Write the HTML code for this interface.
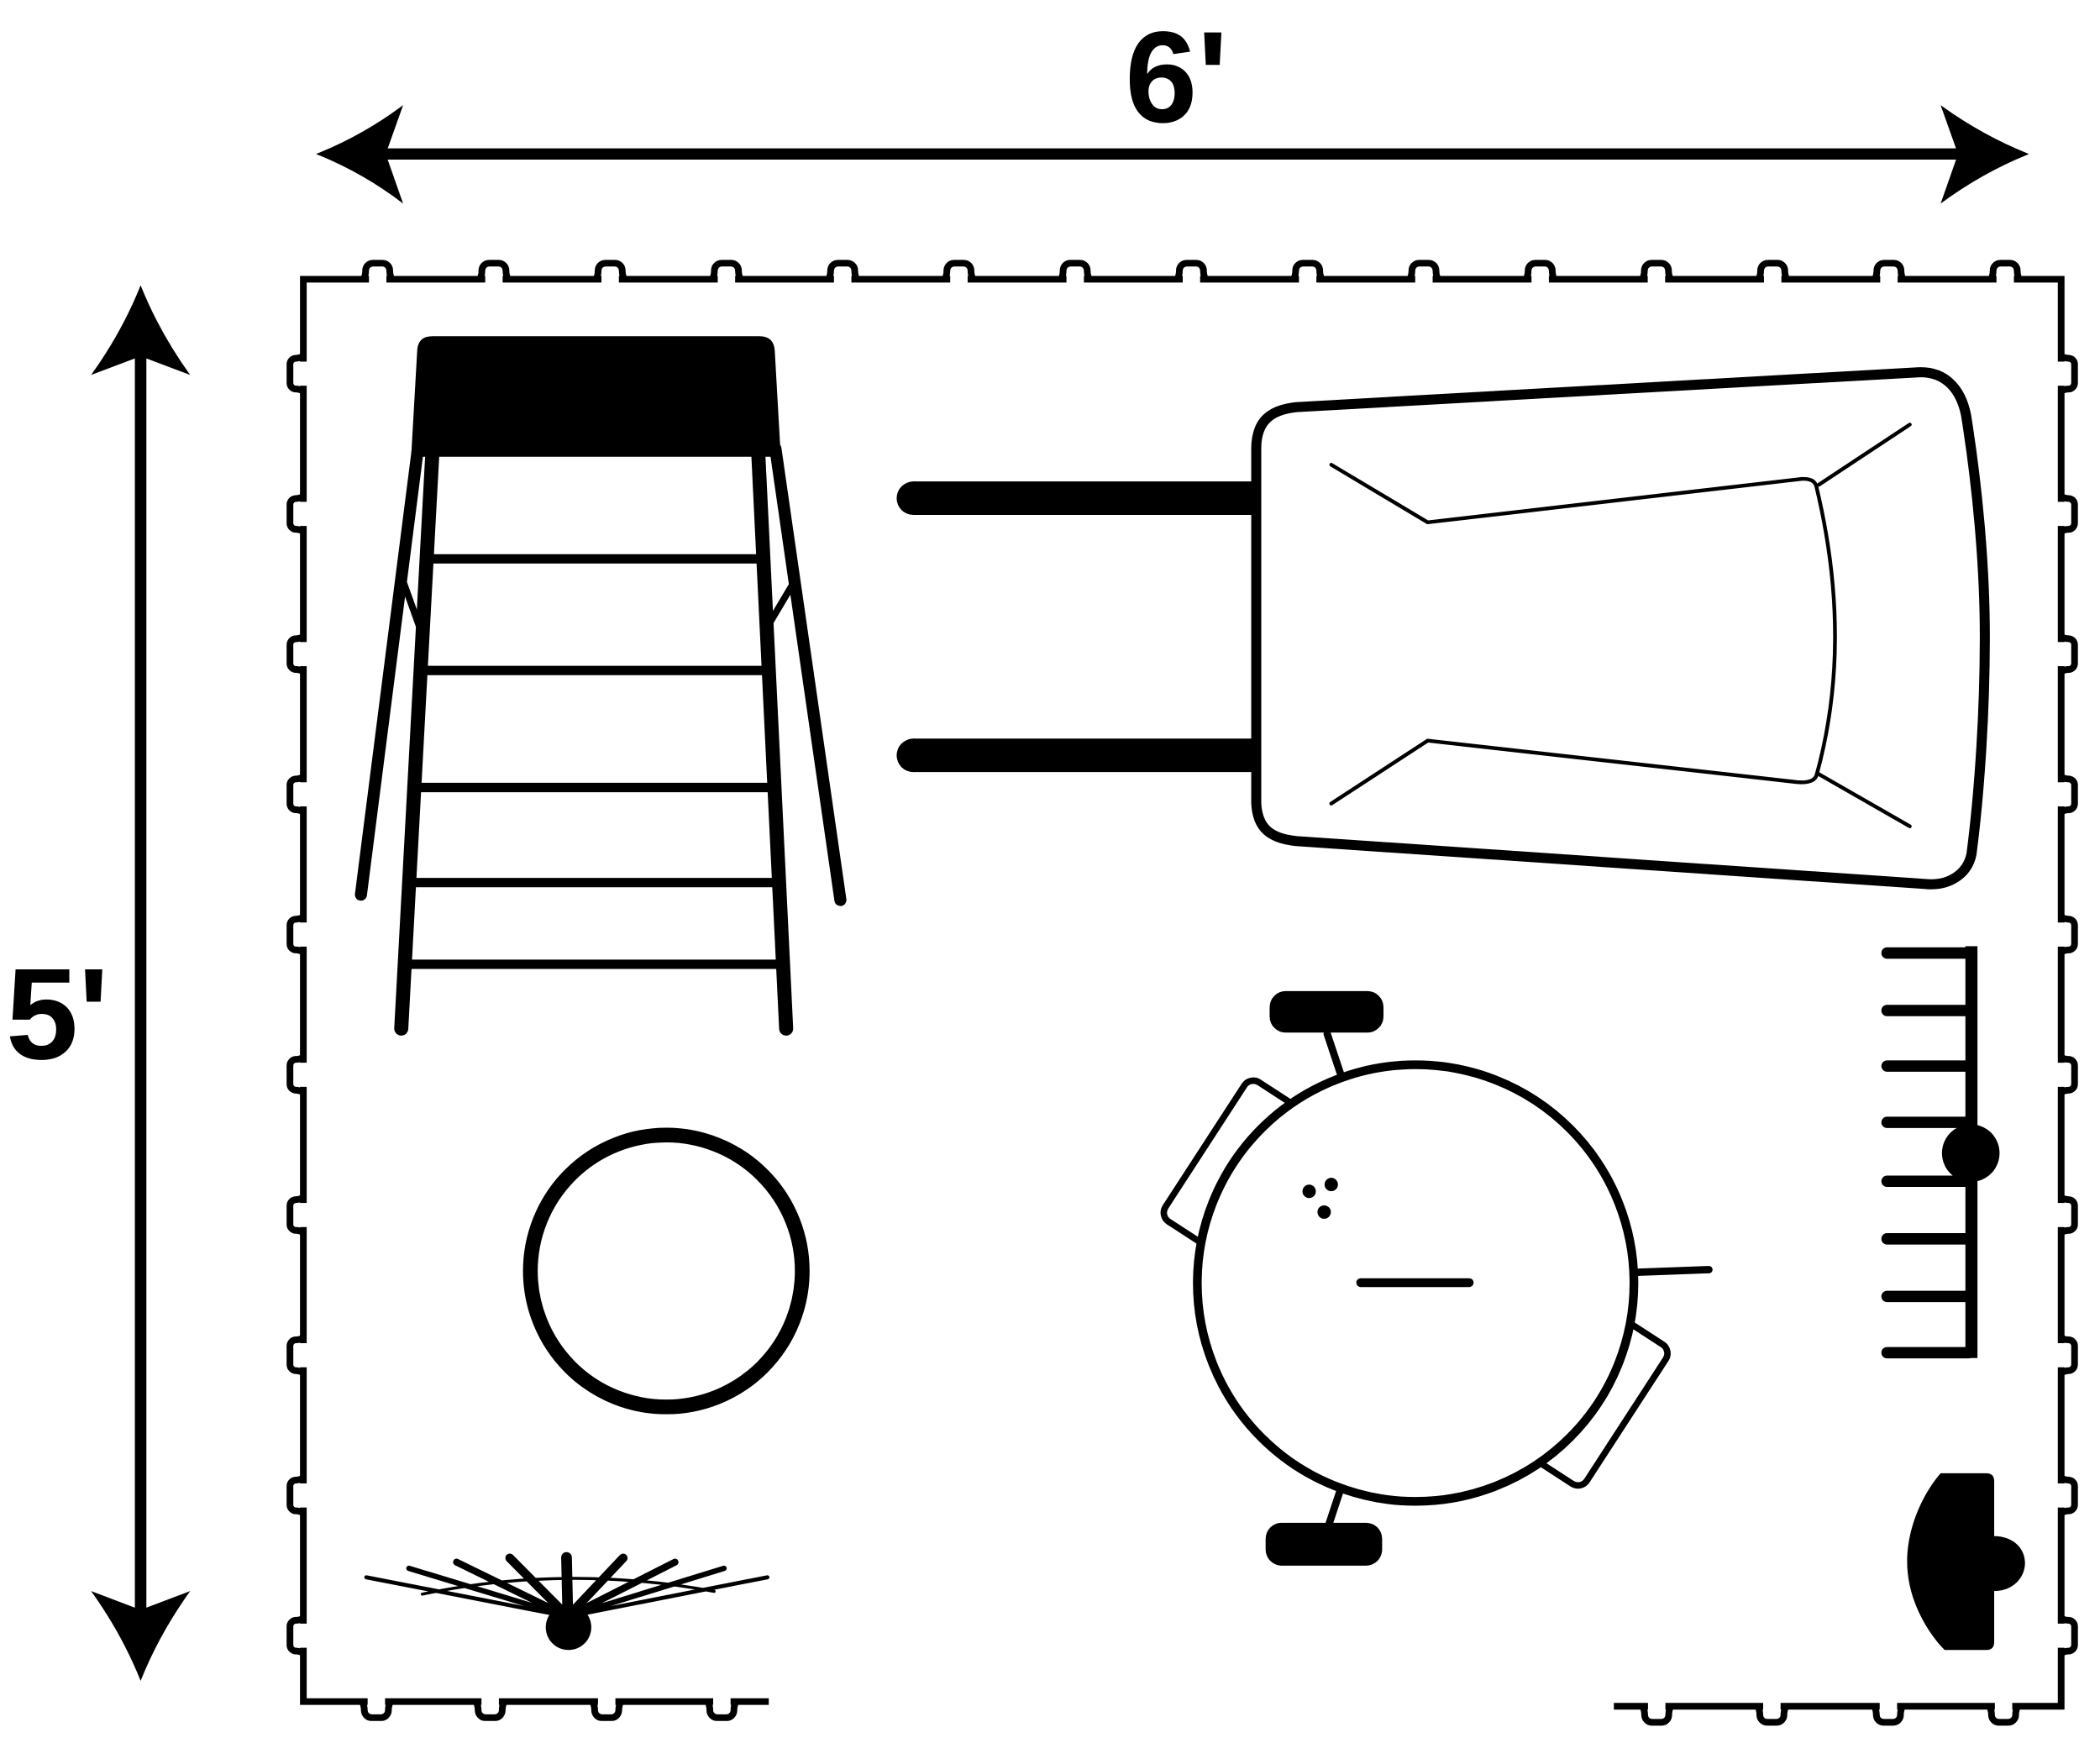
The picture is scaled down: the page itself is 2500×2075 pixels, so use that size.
<!DOCTYPE html>
<html>
<head>
<meta charset="utf-8">
<style>
  html, body { margin: 0; padding: 0; background: #ffffff; }
  svg { display: block; }
</style>
</head>
<body>
<svg xmlns="http://www.w3.org/2000/svg" xmlns:xlink="http://www.w3.org/1999/xlink" width="2500" height="2075" viewBox="0 0 1568 1301.43" preserveAspectRatio="none">
  <defs>
    <g id="tt">
      <rect x="-6.5" y="-3" width="13" height="6" fill="#fff"/>
      <path d="M-10.5,0 C-9.5,-2 -9,-4.5 -9,-6.5 A5.5,5.5 0 0 1 -3.5,-12 L3.5,-12 A5.5,5.5 0 0 1 9,-6.5 C9,-4.5 9.5,-2 10.5,0" fill="none" stroke="#000" stroke-width="5"/>
    </g>
    <g id="ts">
      <rect x="-9" y="-3" width="18" height="6" fill="#fff"/>
      <path d="M-13,0 C-12,-2 -11.5,-4 -11.5,-5.5 A4.5,4.5 0 0 1 -7,-10 L7,-10 A4.5,4.5 0 0 1 11.5,-5.5 C11.5,-4 12,-2 13,0" fill="none" stroke="#000" stroke-width="5"/>
    </g>
  </defs>

  <rect x="0" y="0" width="1568" height="1301.43" fill="#fff"/>

  <!-- Dimension labels -->
  <text x="840" y="91" font-family="'Liberation Sans', Arial, sans-serif" font-weight="bold" font-size="97" fill="#000">6'</text>
  <text x="4.4" y="790.5" font-family="'Liberation Sans', Arial, sans-serif" font-weight="bold" font-size="97" fill="#000">5'</text>

  <!-- Horizontal dimension arrow -->
  <line x1="287" y1="115" x2="1463" y2="115" stroke="#000" stroke-width="8.4"/>
  <path d="M236,115 Q271,101 301,78.5 L288,115 L301,152 Q271,129 236,115 Z" fill="#000"/>
  <path d="M1515,115 Q1480,101 1449,78.5 L1462,115 L1449,152 Q1480,129 1515,115 Z" fill="#000"/>

  <!-- Vertical dimension arrow -->
  <line x1="105" y1="265" x2="105" y2="1203" stroke="#000" stroke-width="8.6"/>
  <path d="M105,213 Q119,248 142,280 L105,266 L68,280 Q91,248 105,213 Z" fill="#000"/>
  <path d="M105,1255 Q119,1220 142,1188 L105,1202 L68,1188 Q91,1220 105,1255 Z" fill="#000"/>

  <!-- Border -->
  <path d="M574,1270.5 H226.5 V208.5 H1539 V1274 H1205" fill="none" stroke="#000" stroke-width="5" stroke-linejoin="miter"/>

  <!-- Top tabs -->
  <use xlink:href="#tt" transform="translate(282,208.5)"/>
  <use xlink:href="#tt" transform="translate(368.8,208.5)"/>
  <use xlink:href="#tt" transform="translate(455.6,208.5)"/>
  <use xlink:href="#tt" transform="translate(542.4,208.5)"/>
  <use xlink:href="#tt" transform="translate(629.2,208.5)"/>
  <use xlink:href="#tt" transform="translate(716,208.5)"/>
  <use xlink:href="#tt" transform="translate(802.8,208.5)"/>
  <use xlink:href="#tt" transform="translate(889.6,208.5)"/>
  <use xlink:href="#tt" transform="translate(976.4,208.5)"/>
  <use xlink:href="#tt" transform="translate(1063.2,208.5)"/>
  <use xlink:href="#tt" transform="translate(1150,208.5)"/>
  <use xlink:href="#tt" transform="translate(1236.8,208.5)"/>
  <use xlink:href="#tt" transform="translate(1323.6,208.5)"/>
  <use xlink:href="#tt" transform="translate(1410.4,208.5)"/>
  <use xlink:href="#tt" transform="translate(1497.2,208.5)"/>

  <!-- Left tabs -->
  <use xlink:href="#ts" transform="translate(226.5,279) rotate(-90)"/>
  <use xlink:href="#ts" transform="translate(226.5,383.7) rotate(-90)"/>
  <use xlink:href="#ts" transform="translate(226.5,488.4) rotate(-90)"/>
  <use xlink:href="#ts" transform="translate(226.5,593.1) rotate(-90)"/>
  <use xlink:href="#ts" transform="translate(226.5,697.8) rotate(-90)"/>
  <use xlink:href="#ts" transform="translate(226.5,802.5) rotate(-90)"/>
  <use xlink:href="#ts" transform="translate(226.5,907.2) rotate(-90)"/>
  <use xlink:href="#ts" transform="translate(226.5,1011.9) rotate(-90)"/>
  <use xlink:href="#ts" transform="translate(226.5,1116.6) rotate(-90)"/>
  <use xlink:href="#ts" transform="translate(226.5,1221.3) rotate(-90)"/>

  <!-- Right tabs -->
  <use xlink:href="#ts" transform="translate(1539,279) rotate(90)"/>
  <use xlink:href="#ts" transform="translate(1539,383.7) rotate(90)"/>
  <use xlink:href="#ts" transform="translate(1539,488.4) rotate(90)"/>
  <use xlink:href="#ts" transform="translate(1539,593.1) rotate(90)"/>
  <use xlink:href="#ts" transform="translate(1539,697.8) rotate(90)"/>
  <use xlink:href="#ts" transform="translate(1539,802.5) rotate(90)"/>
  <use xlink:href="#ts" transform="translate(1539,907.2) rotate(90)"/>
  <use xlink:href="#ts" transform="translate(1539,1011.9) rotate(90)"/>
  <use xlink:href="#ts" transform="translate(1539,1116.6) rotate(90)"/>
  <use xlink:href="#ts" transform="translate(1539,1221.3) rotate(90)"/>

  <!-- Bottom tabs -->
  <use xlink:href="#tt" transform="translate(281,1270.5) rotate(180)"/>
  <use xlink:href="#tt" transform="translate(366,1270.5) rotate(180)"/>
  <use xlink:href="#tt" transform="translate(453,1270.5) rotate(180)"/>
  <use xlink:href="#tt" transform="translate(539,1270.5) rotate(180)"/>
  <use xlink:href="#tt" transform="translate(1237,1274) rotate(180)"/>
  <use xlink:href="#tt" transform="translate(1323,1274) rotate(180)"/>
  <use xlink:href="#tt" transform="translate(1410,1274) rotate(180)"/>
  <use xlink:href="#tt" transform="translate(1496,1274) rotate(180)"/>

  <!-- Ladder -->
  <g stroke="#000" stroke-linecap="round" fill="none">
    <line x1="312" y1="335" x2="269.5" y2="668" stroke-width="9"/>
    <line x1="579" y1="335" x2="627.5" y2="672" stroke-width="9"/>
    <line x1="323" y1="335" x2="299.6" y2="768" stroke-width="10.5"/>
    <line x1="566" y1="335" x2="587" y2="768" stroke-width="10.5"/>
    <line x1="301" y1="434" x2="315" y2="473" stroke-width="5"/>
    <line x1="592" y1="436" x2="573" y2="468" stroke-width="5"/>
  </g>
  <g stroke="#000" stroke-width="7" stroke-linecap="butt">
    <line x1="318.8" y1="417.3" x2="569.8" y2="417.3"/>
    <line x1="314.2" y1="500.6" x2="573.9" y2="500.6"/>
    <line x1="309.5" y1="588" x2="578.2" y2="588"/>
    <line x1="305.6" y1="659" x2="581.6" y2="659"/>
    <line x1="302.2" y1="720" x2="584.6" y2="720"/>
  </g>
  <path d="M307,341 L311.5,262 Q312,251 323,251 L567,251 Q578,251 578.5,262 L583,341 Z" fill="#000"/>

  <!-- Slide -->
  <line x1="682" y1="372" x2="937" y2="372" stroke="#000" stroke-width="25"/>
  <circle cx="682" cy="372" r="12.5" fill="#000"/>
  <line x1="682" y1="564" x2="937" y2="564" stroke="#000" stroke-width="25"/>
  <circle cx="682" cy="564" r="12.5" fill="#000"/>
  <path d="M938,335 C938,315 948,306 968,304 L1432,278 C1452,277 1464,290 1468,310 C1476,360 1482,420 1482,475 C1482,540 1477,600 1472,638 C1469,652 1456,662 1437,660 L968,628 C948,626 939,618 938,600 Z" fill="none" stroke="#000" stroke-width="7.5" stroke-linejoin="round"/>
  <g fill="none" stroke="#000" stroke-width="2.8" stroke-linecap="round" stroke-linejoin="round">
    <path d="M994,347 L1066,390 L1345,357.6 Q1355,357 1356.3,363.6 Q1384,479 1356.3,579 Q1354,585 1342,584 L1066,553 L994,600"/>
    <line x1="1358" y1="362" x2="1426" y2="317"/>
    <line x1="1358" y1="578" x2="1426" y2="617"/>
  </g>

  <!-- Hoop -->
  <circle cx="497.5" cy="949" r="101.5" fill="none" stroke="#000" stroke-width="11"/>

  <!-- Round table with chairs -->
  <g transform="translate(1057,958)">
    <g transform="rotate(213)">
      <rect x="130" y="-62" width="57.6" height="124" rx="8" ry="8" fill="#fff" stroke="#000" stroke-width="4.8"/>
    </g>
    <g transform="rotate(33)">
      <rect x="130" y="-62" width="57.6" height="124" rx="8" ry="8" fill="#fff" stroke="#000" stroke-width="4.8"/>
    </g>
  </g>
  <g stroke="#000" stroke-width="5.5" stroke-linecap="round">
    <line x1="991" y1="772" x2="1001" y2="802"/>
    <line x1="1000.6" y1="1113" x2="992" y2="1139"/>
    <line x1="1222" y1="950" x2="1276" y2="948"/>
  </g>
  <circle cx="1057" cy="958" r="163" fill="#fff" stroke="#000" stroke-width="6.5"/>
  <rect x="948" y="740" width="85" height="31" rx="12" ry="12" fill="#000"/>
  <rect x="945" y="1137" width="87" height="32" rx="12" ry="12" fill="#000"/>
  <line x1="1016" y1="957.7" x2="1097" y2="957.7" stroke="#000" stroke-width="6.6" stroke-linecap="round"/>
  <circle cx="977.5" cy="889.5" r="5" fill="#000"/>
  <circle cx="994" cy="884.4" r="5" fill="#000"/>
  <circle cx="988.7" cy="905" r="5" fill="#000"/>

  <!-- Rake -->
  <g stroke="#000" stroke-width="8.5" stroke-linecap="round">
    <line x1="1409" y1="711.6" x2="1470" y2="711.6"/>
    <line x1="1409" y1="754.5" x2="1470" y2="754.5"/>
    <line x1="1409" y1="796" x2="1470" y2="796"/>
    <line x1="1409" y1="838" x2="1470" y2="838"/>
    <line x1="1409" y1="882" x2="1470" y2="882"/>
    <line x1="1409" y1="925" x2="1470" y2="925"/>
    <line x1="1409" y1="968" x2="1470" y2="968"/>
    <line x1="1409" y1="1010" x2="1470" y2="1010"/>
  </g>
  <rect x="1467.5" y="706.5" width="9" height="307.5" fill="#000"/>
  <circle cx="1471.5" cy="861" r="21.5" fill="#000"/>

  <!-- Bottom-right object -->
  <path d="M1449,1100 L1483,1100 Q1489,1100 1489,1106 L1489,1147 C1503,1147 1512,1156 1512,1167 C1512,1178 1503,1188 1489,1188 L1489,1226 Q1489,1232 1483,1232 L1452,1232 C1440,1220 1424,1195 1424,1166 C1424,1140 1436,1115 1449,1100 Z" fill="#000"/>

  <!-- Fan / sprinkler -->
  <g stroke="#000" stroke-linecap="round" fill="none">
    <line x1="273.5" y1="1177.7" x2="424" y2="1207" stroke-width="3"/>
    <line x1="573" y1="1177.7" x2="424" y2="1207" stroke-width="3"/>
    <line x1="305.3" y1="1171" x2="424" y2="1207" stroke-width="4"/>
    <line x1="540.6" y1="1171" x2="424" y2="1207" stroke-width="4"/>
    <line x1="340.9" y1="1166.4" x2="424" y2="1207" stroke-width="5.2"/>
    <line x1="504" y1="1166.4" x2="424" y2="1207" stroke-width="5.2"/>
    <line x1="380.6" y1="1163.3" x2="424" y2="1207" stroke-width="6.6"/>
    <line x1="465.3" y1="1163.3" x2="424" y2="1207" stroke-width="6.6"/>
    <line x1="423" y1="1162.9" x2="424" y2="1207" stroke-width="8"/>
    <path d="M315.3,1190.3 Q422.75,1167.75 533.2,1188.2" stroke-width="2.2"/>
  </g>
  <circle cx="424.5" cy="1215" r="17" fill="#000"/>
</svg>
</body>
</html>
